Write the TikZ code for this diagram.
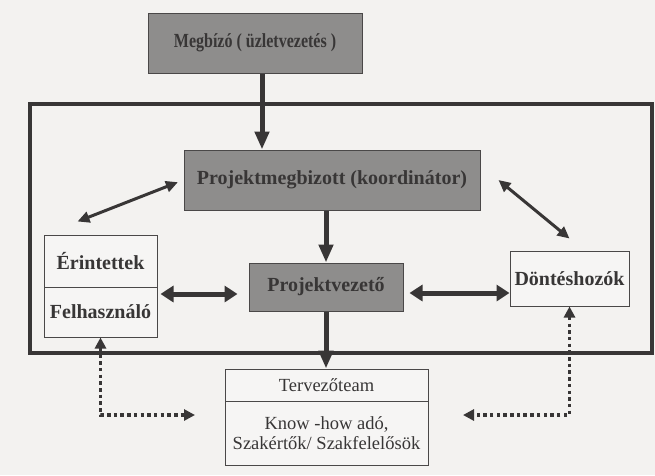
\documentclass[tikz,border=0pt]{standalone}
\usepackage{fontspec}
\setmainfont{Liberation Serif}
\usetikzlibrary{arrows.meta,calc}
\definecolor{bgc}{HTML}{F3F2F0}
\definecolor{boxgray}{HTML}{8E8D8C}
\definecolor{ink}{HTML}{383636}
\definecolor{edge}{HTML}{4A4848}
\definecolor{paper}{HTML}{F6F5F4}
\begin{document}
\begin{tikzpicture}[x=1pt,y=-1pt,
  txt/.style={font=\fontsize{20}{24}\selectfont\bfseries, text=ink},
  graybox/.style={draw=edge, line width=1pt, fill=boxgray, inner sep=0pt, txt},
  lightbox/.style={draw=edge, line width=1pt, fill=paper, inner sep=0pt, txt},
  teambox/.style={draw=edge, line width=1pt, fill=paper, inner sep=0pt,
    font=\fontsize{18.5}{20}\selectfont, text=ink, align=center},
  vert/.style={draw=ink, line width=5pt, -{Triangle[length=18pt,width=14pt]}},
  hdbl/.style={draw=ink, line width=5pt, {Triangle[length=13pt,width=16pt]}-{Triangle[length=13pt,width=16pt]}},
  diag/.style={draw=ink, line width=3pt, {Triangle[length=12pt,width=11pt]}-{Triangle[length=12pt,width=11pt]}},
  dots/.style={draw=ink, line width=3.5pt, dash pattern=on 3.5pt off 3.2pt,
    {Triangle[length=11pt,width=11pt]}-{Triangle[length=11pt,width=11pt]}}
]
% canvas
\useasboundingbox (0,0) rectangle (655,475);
\fill[bgc] (0,0) rectangle (655,475);

% project frame
\draw[ink, line width=3.5pt] (30,104) rectangle (652,353);

% boxes
\node[graybox, minimum width=214pt, minimum height=60pt] (megb) at (255,43)
  {\scalebox{0.8}[1]{Megbízó ( üzletvezetés )}};
\node[graybox, minimum width=296pt, minimum height=60pt] (pmb) at (332,180)
  {Projektmegbizott (koordinátor)};
\node[graybox, minimum width=154pt, minimum height=48pt] (pv) at (326,287)
  {Projektvezető};
\node[lightbox, minimum width=113pt, minimum height=52pt] (erint) at (100.5,261)
  {Érintettek};
\node[lightbox, minimum width=113pt, minimum height=50pt] (felh) at (100.5,312)
  {Felhasználó};
\node[lightbox, minimum width=119pt, minimum height=55pt] (dont) at (569.5,278.5)
  {Döntéshozók};
\node[teambox, minimum width=203pt, minimum height=32pt] (terv) at (326.5,385)
  {Tervezőteam};
\node[teambox, minimum width=203pt, minimum height=64pt] (know) at (326.5,433)
  {Know -how adó,\\Szakértők/ Szakfelelősök};

% free ends of the dotted links
\coordinate (dl) at (195,415);
\coordinate (dr) at (463,415);

% chain of command
\draw[vert] ([xshift=7pt]megb.south) -- ([xshift=7pt]megb.south |- pmb.north);
\draw[vert] (pv.north |- pmb.south) -- (pv.north);
\draw[vert] (pv.south) -- (pv.south |- terv.north);

% two-way links with the project manager
\draw[hdbl, shorten <=3pt, shorten >=11pt]
  ([yshift=-7pt]pv.west -| felh.east) -- ([yshift=-7pt]pv.west);
\draw[hdbl, shorten <=6pt]
  ([yshift=-6pt]pv.east) -- ([yshift=-6pt]pv.east -| dont.west);

% links with the coordinator
\draw[diag, shorten >=6pt] ($(erint.north west)+(34,-13)$) -- (pmb.west);
\draw[diag] ($(pmb.east)+(18,0)$) -- ($(dont.north)+(0,-12)$);

% dotted links to the design team
\draw[dots] (felh.south) |- (dl);
\draw[dots] (dont.south) |- (dr);
\end{tikzpicture}
\end{document}
